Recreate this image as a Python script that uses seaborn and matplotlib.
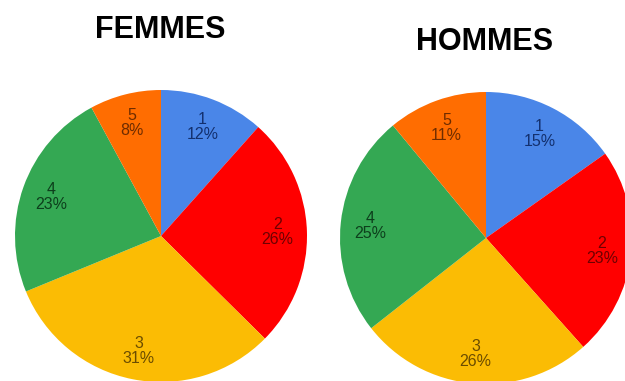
import matplotlib
matplotlib.use('Agg')
import matplotlib.pyplot as plt
import seaborn as sns

sns.set_theme(style='white')
plt.rcParams['font.family'] = ['Liberation Sans', 'DejaVu Sans']

# données (parts en %)
categories = ['1', '2', '3', '4', '5']
femmes = [11.6, 25.8, 31.4, 23.3, 7.9]
hommes = [15.2, 23.2, 26.0, 24.6, 11.0]
titles = ['FEMMES', 'HOMMES']

colors = ['#4a86e8', '#ff0000', '#fbbc04', '#34a853', '#ff6d01']
text_colors = ['#13306e', '#6e0000', '#6b4c00', '#0d3f1c', '#6e2c00']

fig = plt.figure(figsize=(6.25, 3.81), dpi=100)

# position de chaque camembert (gauche, bas, largeur, hauteur) en fraction de figure
axes_pos = [
    [15 / 625, (381 - 236 - 146) / 381, 292 / 625, 292 / 381],
    [340 / 625, (381 - 238 - 146) / 381, 292 / 625, 292 / 381],
]
title_pos = [(160, 30), (485, 42)]

for data, title, pos, tpos in zip([femmes, hommes], titles, axes_pos, title_pos):
    ax = fig.add_axes(pos)
    wedges, texts, autotexts = ax.pie(
        data, colors=colors, startangle=90, counterclock=False,
        autopct='%.0f%%', pctdistance=0.8, radius=1,
        wedgeprops=dict(linewidth=0),
    )
    for t, cat, c in zip(autotexts, categories, text_colors):
        t.set_text(cat + '\n' + t.get_text())
        t.set_color(c)
        t.set_fontsize(11.5)
        t.set_linespacing(1.0)
    ax.set_xlim(-1, 1)
    ax.set_ylim(-1, 1)
    ax.set_aspect('equal')
    ax.axis('off')
    fig.text(tpos[0] / 625, 1 - tpos[1] / 381, title, ha='center', va='center',
             fontsize=22, fontweight='bold', color='black')

fig.savefig('out.png', dpi=100)
